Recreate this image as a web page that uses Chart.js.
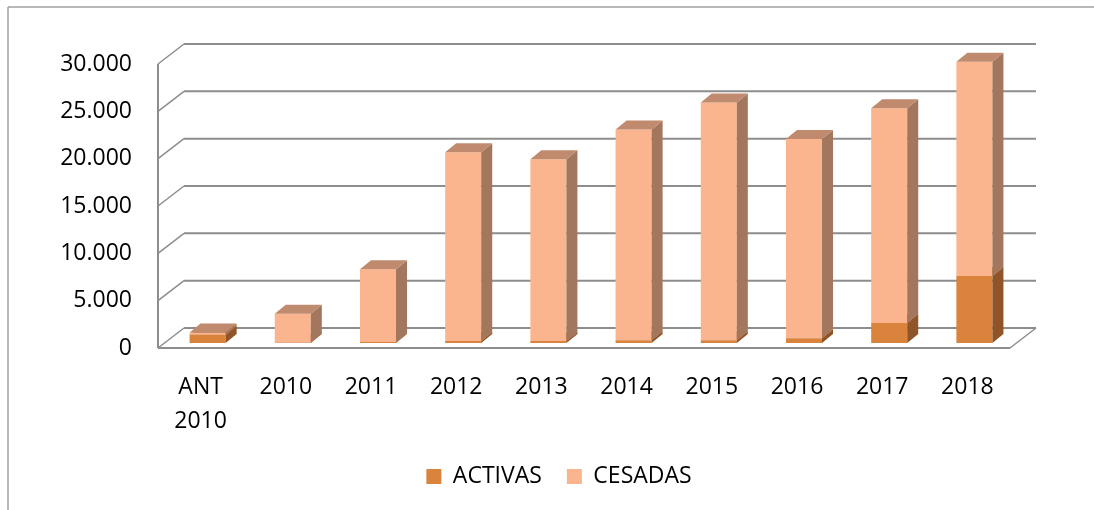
<!DOCTYPE html>
<html>
<head>
<meta charset="utf-8">
<title>ACTIVAS / CESADAS</title>
<script src="https://cdn.jsdelivr.net/npm/chart.js@4.4.1/dist/chart.umd.min.js"></script>
<style>
    html, body { margin: 0; padding: 0; background: #fff; }
    #wrap { width: 1094px; height: 510px; }
</style>
</head>
<body>
<div id="wrap"><canvas id="chart" width="1094" height="510"></canvas></div>
<script>
// 数据
const labels = [['ANT', '2010'], '2010', '2011', '2012', '2013', '2014', '2015', '2016', '2017', '2018'];
const activas = [880, 20, 100, 200, 200, 300, 300, 500, 2100, 7080];
const cesadas = [240, 3080, 7690, 19940, 19200, 22260, 25100, 21040, 22700, 22640];
const yTicks = [0, 5000, 10000, 15000, 20000, 25000, 30000];
const yTickLabels = ['0', '5.000', '10.000', '15.000', '20.000', '25.000', '30.000'];

// 颜色
const COLORS = {
    activas: { front: '#da833c', side: '#8f5427', top: '#b86c30' },
    cesadas: { front: '#fab58e', side: '#a2775d', top: '#bf8a6e' }
};
const GRID_COLOR = '#8d8d8d';
const FONT = '"Open Sans", "Liberation Sans", sans-serif';

// 3D 偏移
const WALL_DX = 26, WALL_DY = -20;   // 背景墙深度
const BAR_OX = 7, BAR_OY = -5;       // 柱子前面离地面前沿的距离
const BAR_DX = 11, BAR_DY = -9;      // 柱子厚度
const LEGEND_LEFT = 108;             // 图例区域左边界

function line(ctx, x1, y1, x2, y2) {
    ctx.beginPath();
    ctx.moveTo(x1, y1);
    ctx.lineTo(x2, y2);
    ctx.stroke();
}

function poly(ctx, pts, color) {
    ctx.beginPath();
    ctx.moveTo(pts[0][0], pts[0][1]);
    for (let i = 1; i < pts.length; i++) ctx.lineTo(pts[i][0], pts[i][1]);
    ctx.closePath();
    ctx.fillStyle = color;
    ctx.fill();
}

const depth3d = {
    id: 'depth3d',
    afterLayout(chart) {
        // 图例整体右移，与原图居中位置一致
        if (chart.legend) chart.legend.left = LEGEND_LEFT;
    },
    beforeDraw(chart) {
        // 外框（只露出上边和左边）
        const ctx = chart.ctx;
        ctx.save();
        ctx.strokeStyle = '#a0a0a0';
        ctx.lineWidth = 1.5;
        line(ctx, 8, 7, chart.width, 7);
        line(ctx, 8, 7, 8, chart.height);
        ctx.restore();
    },
    beforeDatasetsDraw(chart) {
        const { ctx, chartArea: a, scales: { y } } = chart;
        ctx.save();
        ctx.strokeStyle = GRID_COLOR;
        yTicks.forEach(v => {
            const py = y.getPixelForValue(v);
            ctx.lineWidth = 2;
            line(ctx, a.left + WALL_DX, py + WALL_DY, a.right + WALL_DX, py + WALL_DY);
            ctx.lineWidth = 1.5;
            line(ctx, a.left, py, a.left + WALL_DX, py + WALL_DY);
        });
        const y0 = y.getPixelForValue(0);
        const yTop = y.getPixelForValue(yTicks[yTicks.length - 1]);
        ctx.lineWidth = 2;
        line(ctx, a.left, yTop, a.left, y0);
        line(ctx, a.left, y0, a.right, y0);
        ctx.lineWidth = 1.5;
        line(ctx, a.right, y0, a.right + WALL_DX, y0 + WALL_DY);
        ctx.restore();
    },
    beforeDatasetDraw() {
        return false;
    },
    afterDatasetsDraw(chart) {
        const ctx = chart.ctx;
        const metas = [chart.getDatasetMeta(0), chart.getDatasetMeta(1)];
        const palette = [COLORS.activas, COLORS.cesadas];
        ctx.save();
        labels.forEach((_, i) => {
            metas.forEach((meta, k) => {
                const bar = meta.data[i];
                if (!bar) return;
                const p = bar.getProps(['x', 'y', 'base', 'width'], true);
                const l = p.x - p.width / 2 + BAR_OX;
                const r = p.x + p.width / 2 + BAR_OX;
                const t = Math.min(p.y, p.base) + BAR_OY;
                const b = Math.max(p.y, p.base) + BAR_OY;
                const c = palette[k];
                poly(ctx, [[l, b], [r, b], [r, t], [l, t]], c.front);
                poly(ctx, [[r, b], [r + BAR_DX, b + BAR_DY], [r + BAR_DX, t + BAR_DY], [r, t]], c.side);
                poly(ctx, [[l, t], [r, t], [r + BAR_DX, t + BAR_DY], [l + BAR_DX, t + BAR_DY]], c.top);
            });
        });
        ctx.restore();
    }
};

new Chart(document.getElementById('chart'), {
    type: 'bar',
    data: {
        labels: labels,
        datasets: [
            { label: 'ACTIVAS', data: activas, backgroundColor: COLORS.activas.front, borderWidth: 0 },
            { label: 'CESADAS', data: cesadas, backgroundColor: COLORS.cesadas.front, borderWidth: 0 }
        ]
    },
    options: {
        responsive: false,
        animation: false,
        events: [],
        layout: { padding: { left: 8, right: 84, top: 64, bottom: 12 } },
        datasets: { bar: { categoryPercentage: 1, barPercentage: 0.423 } },
        plugins: {
            tooltip: { enabled: false },
            legend: {
                position: 'bottom',
                labels: {
                    boxWidth: 15,
                    boxHeight: 15,
                    padding: 25,
                    color: '#000',
                    font: { family: FONT, size: 23 }
                }
            }
        },
        scales: {
            x: {
                stacked: true,
                grid: { display: false, drawTicks: false },
                border: { display: false },
                ticks: {
                    color: '#000',
                    padding: 22,
                    maxRotation: 0,
                    autoSkip: false,
                    font: { family: FONT, size: 23, lineHeight: 1.48 }
                },
                afterFit: s => { s.height = 92; }
            },
            y: {
                stacked: true,
                min: 0,
                max: 30000,
                grid: { display: false, drawTicks: false },
                border: { display: false },
                ticks: {
                    stepSize: 5000,
                    color: '#000',
                    padding: 26,
                    font: { family: FONT, size: 23 },
                    callback: (v) => yTickLabels[yTicks.indexOf(v)]
                },
                afterFit: s => { s.width = 150; }
            }
        }
    },
    plugins: [depth3d]
});
</script>
</body>
</html>
